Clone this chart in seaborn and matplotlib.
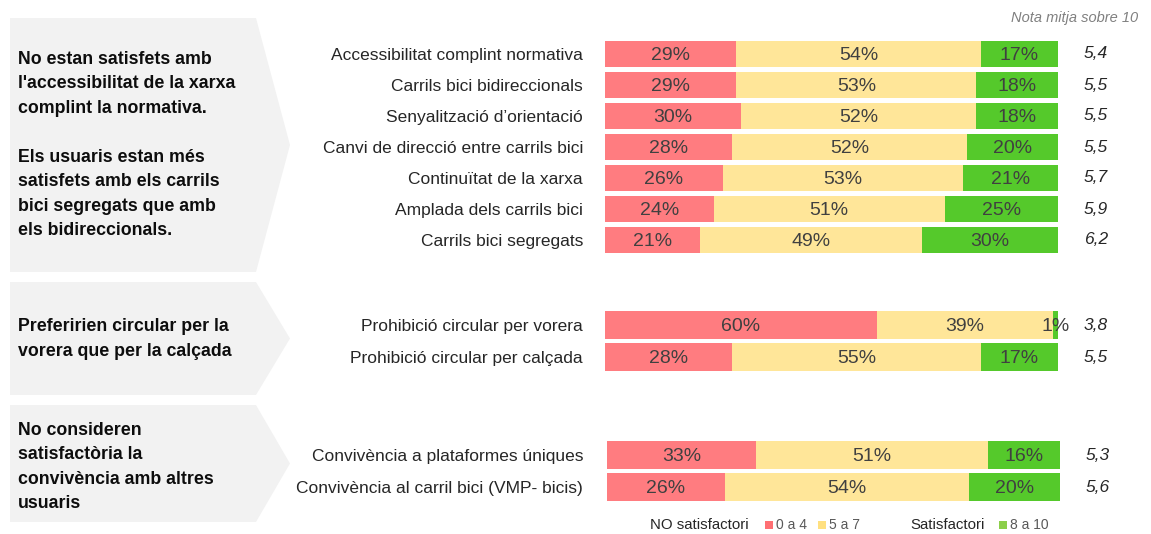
import numpy as np
import pandas as pd
import matplotlib
matplotlib.use("Agg")
import matplotlib.pyplot as plt
import seaborn as sns
from matplotlib.patches import Polygon, Rectangle

# ---------------- data ----------------
cats1 = ["Accessibilitat complint normativa", "Carrils bici bidireccionals",
         "Senyalització d\u2019orientació", "Canvi de direcció entre carrils bici",
         "Continuïtat de la xarxa", "Amplada dels carrils bici", "Carrils bici segregats"]
red1 = [29, 29, 30, 28, 26, 24, 21]
yel1 = [54, 53, 52, 52, 53, 51, 49]
grn1 = [17, 18, 18, 20, 21, 25, 30]
score1 = ["5,4", "5,5", "5,5", "5,5", "5,7", "5,9", "6,2"]

cats2 = ["Prohibició circular per vorera", "Prohibició circular per calçada"]
red2 = [60, 28]
yel2 = [39, 55]
grn2 = [1, 17]
score2 = ["3,8", "5,5"]

cats3 = ["Convivència a plataformes úniques", "Convivència al carril bici (VMP- bicis)"]
red3 = [33, 26]
yel3 = [51, 54]
grn3 = [16, 20]
score3 = ["5,3", "5,6"]

headlines = [
    "No estan satisfets amb\nl'accessibilitat de la xarxa\ncomplint la normativa.\n\n"
    "Els usuaris estan més\nsatisfets amb els carrils\nbici segregats que amb\nels bidireccionals.",
    "Preferirien circular per la\nvorera que per la calçada",
    "No consideren\nsatisfactòria la\nconvivència amb altres\nusuaris",
]
legend_groups = ["NO satisfactori", "Satisfactori"]
legend_labels = ["0 a 4", "5 a 7", "8 a 10"]
note_text = "Nota mitja sobre 10"

# ---------------- style ----------------
sns.set_theme(style="white")
plt.rcParams["font.family"] = ["Liberation Sans", "DejaVu Sans"]

RED = "#FF7C80"
YEL = "#FFE699"
GRN = "#55C92B"
LRED = "#FF6F73"
LYEL = "#FFE080"
LGRN = "#8CCF4A"
BOXC = "#F2F2F2"

W, H = 1151, 534
fig = plt.figure(figsize=(W / 100, H / 100), dpi=100)


def fx(px):
    return px / W


def fy(py):
    return 1 - py / H


# chevron boxes (pixel coordinates: top, bottom)
boxes = [(18, 272), (282, 395), (405, 522)]
text_centers = [145, 339, 467]
for (top, bot), tc, txt in zip(boxes, text_centers, headlines):
    mid = (top + bot) / 2
    pts = [(fx(10), fy(top)), (fx(256), fy(top)), (fx(290), fy(mid)),
           (fx(256), fy(bot)), (fx(10), fy(bot))]
    fig.patches.append(Polygon(pts, closed=True, transform=fig.transFigure,
                               facecolor=BOXC, edgecolor="none", zorder=0))
    fig.text(fx(18), fy(tc), txt, ha="left", va="center", fontsize=12.8,
             fontweight="bold", color="#0D0D0D", linespacing=1.58)


def panel(cats, red, yel, grn, scores, left, right, c_first, c_last, width, pad_px):
    n = len(cats)
    pitch = (c_last - c_first) / (n - 1) if n > 1 else 31
    top = c_first - pitch / 2
    bot = c_last + pitch / 2
    ax = fig.add_axes([fx(left), fy(bot), fx(right - left), (bot - top) / H])
    df = pd.DataFrame({"cat": cats, "r": red, "y": yel, "g": grn})
    df["c1"] = df["r"]
    df["c2"] = df["r"] + df["y"]
    df["c3"] = df["r"] + df["y"] + df["g"]
    for col, colr in [("c3", GRN), ("c2", YEL), ("c1", RED)]:
        sns.barplot(data=df, x=col, y="cat", orient="h", color=colr, saturation=1,
                    width=width, linewidth=0, ax=ax)
    ax.set_xlim(0, 100)
    ax.set_ylim(n - 0.5, -0.5)
    ax.set_xlabel("")
    ax.set_ylabel("")
    ax.set_xticks([])
    ax.set_yticks(range(n))
    ax.set_yticklabels(cats, fontsize=12.5, color="#262626")
    ax.tick_params(axis="y", length=0, pad=pad_px * 0.72)
    for s in ax.spines.values():
        s.set_visible(False)
    ax.patch.set_alpha(0)
    for i in range(n):
        starts = [0, df["c1"][i], df["c2"][i]]
        vals = [df["r"][i], df["y"][i], df["g"][i]]
        for st, v in zip(starts, vals):
            ax.text(st + v / 2, i + 0.05, f"{v}%", ha="center", va="center",
                    fontsize=14, color="#404040", clip_on=False)
        ax.text(108.4, i, scores[i], ha="center", va="center", fontsize=12.5,
                style="italic", color="#262626", clip_on=False)
    return ax


panel(cats1, red1, yel1, grn1, score1, 605, 1058, 54, 240, 0.84, 22)
panel(cats2, red2, yel2, grn2, score2, 605, 1058, 325, 357, 0.87, 22)
panel(cats3, red3, yel3, grn3, score3, 607, 1060, 455, 487, 0.86, 24)

# note
fig.text(fx(1138), fy(18), note_text, ha="right", va="center", fontsize=10.5,
         style="italic", color="#808080")

# legend
ly = 525
fig.text(fx(650), fy(ly), legend_groups[0], ha="left", va="center", fontsize=10.8,
         color="#262626")
fig.text(fx(910), fy(ly), legend_groups[1], ha="left", va="center", fontsize=10.8,
         color="#262626")
for xs, col, lab in [(765, LRED, legend_labels[0]), (818, LYEL, legend_labels[1]),
                     (999, LGRN, legend_labels[2])]:
    fig.patches.append(Rectangle((fx(xs), fy(ly + 4)), fx(8), 8 / H,
                                 transform=fig.transFigure, facecolor=col,
                                 edgecolor="none"))
    fig.text(fx(xs + 11), fy(ly), lab, ha="left", va="center", fontsize=10,
             color="#595959")

fig.savefig("out.png", dpi=100)
